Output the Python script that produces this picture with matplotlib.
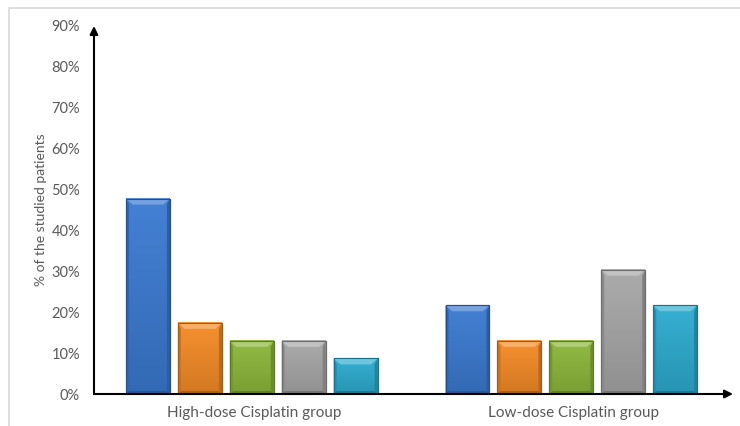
import matplotlib
matplotlib.use("Agg")
import matplotlib.pyplot as plt
from matplotlib.patches import Polygon, Rectangle
from matplotlib.colors import to_rgb
import numpy as np

plt.rcParams['font.family'] = ['Lato', 'DejaVu Sans']

groups = ["High-dose Cisplatin group", "Low-dose Cisplatin group"]
series_values = [
    [47.8, 21.7],
    [17.4, 13.0],
    [13.0, 13.0],
    [13.0, 30.4],
    [8.7, 21.7],
]
series_colors = ["#3C7BD2", "#F58C27", "#8DB83C", "#A8A8A8", "#2EACD0"]
y_ticks = [0, 10, 20, 30, 40, 50, 60, 70, 80, 90]
y_tick_labels = [f"{t}%" for t in y_ticks]

W, H = 740, 426
fig = plt.figure(figsize=(W / 100, H / 100), dpi=100)
ax = fig.add_axes([94 / W, (H - 394) / H, (733 - 94) / W, (394 - 26) / H])

x = np.arange(len(groups))
bar_w = 0.1375
step = 0.1625
n = len(series_values)

ax.set_xlim(-0.5, 1.5)
ax.set_ylim(0, 90)

# pixel -> data conversion
ext = ax.get_window_extent()
px_x = 2.0 / ext.width
px_y = 90.0 / ext.height


def shade(c, f):
    r = np.array(to_rgb(c))
    if f >= 0:
        return r + (1 - r) * f
    return r * (1 + f)


for i, (vals, col) in enumerate(zip(series_values, series_colors)):
    offs = (i - (n - 1) / 2) * step - 0.006
    bars = ax.bar(x + offs, vals, width=bar_w, color=col,
                  edgecolor=tuple(shade(col, -0.35)), linewidth=0.8, zorder=2)
    for b in bars:
        x0, x1 = b.get_x(), b.get_x() + b.get_width()
        y1 = b.get_height()
        bt = 6 * px_y
        bs = 3 * px_x
        bsy = 3 * px_y
        # soft vertical gradient: lighter at top, darker at bottom
        t = np.linspace(0, 1, 64)[:, None]
        top_c, bot_c = shade(col, 0.04), shade(col, -0.14)
        grad = (bot_c[None, None, :] * (1 - t[..., None]) +
                top_c[None, None, :] * t[..., None])
        ax.imshow(grad, extent=(x0, x1, 0, y1), origin='lower',
                  aspect='auto', interpolation='bilinear', zorder=2.5)
        # top highlight bevel
        ax.add_patch(Polygon([(x0, y1), (x1, y1), (x1 - 2.2 * bs, y1 - bt),
                              (x0 + 2.2 * bs, y1 - bt)], closed=True,
                             facecolor=tuple(shade(col, 0.3)), edgecolor='none', zorder=3))
        # side bevels
        ax.add_patch(Polygon([(x0, y1), (x0 + bs, y1 - bt), (x0 + bs, bsy), (x0, 0)],
                             closed=True, facecolor=tuple(shade(col, -0.18)),
                             edgecolor='none', zorder=3))
        ax.add_patch(Polygon([(x1, y1), (x1 - bs, y1 - bt), (x1 - bs, bsy), (x1, 0)],
                             closed=True, facecolor=tuple(shade(col, -0.24)),
                             edgecolor='none', zorder=3))
        # bottom bevel
        ax.add_patch(Polygon([(x0, 0), (x1, 0), (x1 - bs, bsy), (x0 + bs, bsy)],
                             closed=True, facecolor=tuple(shade(col, -0.3)),
                             edgecolor='none', zorder=3))
        ax.add_patch(Rectangle((x0, 0), x1 - x0, y1, facecolor='none',
                               edgecolor=tuple(shade(col, -0.35)), linewidth=0.8, zorder=4))

ax.set_xlim(-0.5, 1.5)
ax.set_ylim(0, 90)

for s in ["top", "right", "left", "bottom"]:
    ax.spines[s].set_visible(False)

# axes lines with arrowheads
ax.annotate("", xy=(-0.5, 90), xytext=(-0.5, 0), xycoords='data',
            arrowprops=dict(arrowstyle="-|>", color="black", lw=1.5,
                            mutation_scale=12, shrinkA=0, shrinkB=0),
            annotation_clip=False, zorder=5)
ax.annotate("", xy=(1.5, 0), xytext=(-0.5, 0), xycoords='data',
            arrowprops=dict(arrowstyle="-|>", color="black", lw=1.5,
                            mutation_scale=12, shrinkA=0, shrinkB=0),
            annotation_clip=False, zorder=5)

ax.set_yticks(y_ticks)
ax.set_yticklabels(y_tick_labels)
ax.set_xticks(x)
ax.set_xticklabels(groups)
ax.tick_params(axis='both', length=0, colors="#595959")
ax.tick_params(axis='y', pad=10, labelsize=10.5)
ax.tick_params(axis='x', pad=9, labelsize=11)
ax.set_ylabel("% of the studied patients", fontsize=10, color="#595959", labelpad=3)

# outer frame
fig.patches.append(Rectangle((8.5 / W, -0.1), 2, (H - 7.5) / H + 0.1,
                             transform=fig.transFigure, fill=False,
                             edgecolor="#D9D9D9", linewidth=1.2))

fig.savefig("out.png", dpi=100)
